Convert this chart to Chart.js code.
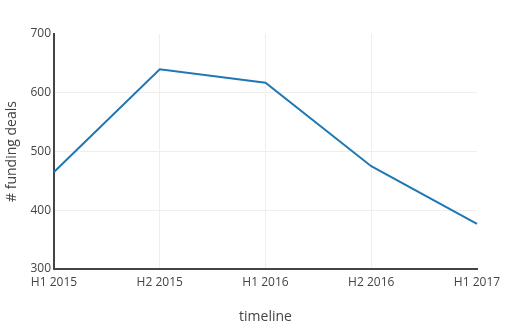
<!DOCTYPE html>
<html>
<head>
<meta charset="utf-8">
<script src="https://cdn.jsdelivr.net/npm/chart.js@4"></script>
<style>
  html, body { margin: 0; padding: 0; background: #fff; }
  canvas { display: block; }
</style>
</head>
<body>
<canvas id="chart" width="527" height="331"></canvas>
<script>
// data
const periods = ['H1 2015', 'H2 2015', 'H1 2016', 'H2 2016', 'H1 2017'];
const deals = [465, 640, 617, 475, 377];
const yTicks = [300, 400, 500, 600, 700];

Chart.defaults.font.family = "'Open Sans', sans-serif";
Chart.defaults.color = '#444';

const ctx = document.getElementById('chart').getContext('2d');
new Chart(ctx, {
  type: 'line',
  data: {
    labels: periods,
    datasets: [{
      data: deals,
      borderColor: '#1f77b4',
      borderWidth: 2,
      pointRadius: 0,
      tension: 0,
      fill: false
    }]
  },
  options: {
    responsive: false,
    animation: false,
    layout: { padding: { top: 34, right: 50, left: 0, bottom: 0 } },
    plugins: { legend: { display: false }, tooltip: { enabled: false } },
    scales: {
      x: {
        type: 'category',
        offset: false,
        grid: {
          color: c => (c.index === 0 || c.index === periods.length - 1) ? 'rgba(0,0,0,0)' : '#eee',
          drawTicks: false
        },
        border: { color: '#444', width: 2 },
        ticks: { color: '#444', font: { size: 12 }, padding: 6, maxRotation: 0, autoSkip: false },
        title: { display: true, text: 'timeline', color: '#444', font: { size: 14 }, padding: { top: 0, bottom: 6 } },
        afterFit: s => { s.height = 62; }
      },
      y: {
        min: yTicks[0],
        max: yTicks[yTicks.length - 1],
        afterBuildTicks: s => { s.ticks = yTicks.map(v => ({ value: v })); },
        grid: {
          color: c => (c.tick && (c.tick.value === yTicks[0] || c.tick.value === yTicks[yTicks.length - 1])) ? 'rgba(0,0,0,0)' : '#eee',
          drawTicks: false
        },
        border: { color: '#444', width: 2 },
        ticks: { color: '#444', font: { size: 12 }, padding: 3 },
        title: { display: true, text: '# funding deals', color: '#444', font: { size: 14 }, padding: { top: 4, bottom: 0 } },
        afterFit: s => { s.width = 54; }
      }
    }
  }
});
</script>
</body>
</html>
